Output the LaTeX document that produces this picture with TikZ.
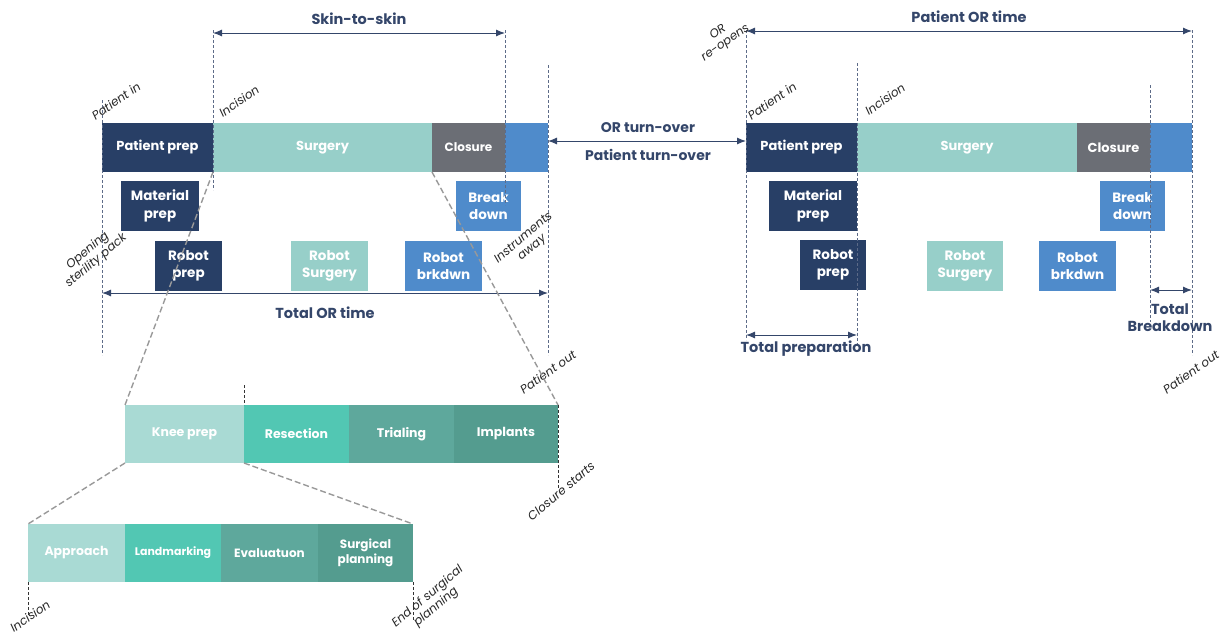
\documentclass[tikz,border=0pt]{standalone}
\usepackage{fontspec}
\setmainfont{Poppins}
\usetikzlibrary{arrows.meta}
\definecolor{navy}{HTML}{283F66}
\definecolor{teal}{HTML}{97CFC9}
\definecolor{closegray}{HTML}{6B6E75}
\definecolor{bdblue}{HTML}{4F8BCB}
\definecolor{lbl}{HTML}{34466A}
\definecolor{kneec}{HTML}{A9DAD4}
\definecolor{resc}{HTML}{52C7B3}
\definecolor{trialc}{HTML}{5EA89C}
\definecolor{implc}{HTML}{549C8F}
\newcommand\segbox[9]{\node[segb, fill=#6, minimum width={#4-#2}, minimum height={#5-#3}, font=\bfseries\fontsize{#8}{#9}\selectfont] (#1) at ({(#2+#4)/2},{(#3+#5)/2}) {#7};}
\tikzset{
  segb/.style={rectangle, inner sep=0pt, outer sep=0pt, text=white, align=center},
  vdash/.style={draw=lbl!80, densely dashed, line width=0.7pt},
  zoomline/.style={draw=gray!80, line width=1.4pt, dash pattern=on 6pt off 3pt},
  dimarrow/.style={draw=lbl, line width=1pt, {Latex[length=9pt,width=7pt]}-{Latex[length=9pt,width=7pt]}},
  biglbl/.style={text=lbl, font=\bfseries\fontsize{14.5}{17}\selectfont, align=center},
  itl/.style={text=black!85, font=\itshape\fontsize{12}{13}\selectfont, rotate=35, align=center, inner sep=1pt},
}
\begin{document}
\begin{tikzpicture}[x=1pt,y=-1pt]
\useasboundingbox (0,0) rectangle (1224,635);
% ---------- left main bar
\segbox{lpp}{102}{123}{213}{172}{navy}{Patient prep}{13}{16}
\segbox{lsu}{213}{123}{432}{172}{teal}{Surgery}{13}{16}
\segbox{lcl}{432}{123}{505}{172}{closegray}{Closure}{12}{15}
\segbox{lbd}{505}{123}{548}{172}{bdblue}{}{11}{14}
\segbox{lmp}{121}{181}{199}{231}{navy}{Material\\prep}{13.5}{17.5}
\segbox{lbk}{456}{181}{521}{231}{bdblue}{Break\\down}{13.5}{17.5}
\segbox{lrp}{155}{241}{222}{291}{navy}{Robot\\prep}{13.5}{17.5}
\segbox{lrs}{291}{241}{368}{291}{teal}{Robot\\Surgery}{13.5}{17.5}
\segbox{lrb}{405}{241}{482}{291}{bdblue}{Robot\\brkdwn}{13.5}{17.5}
% left dashed lines
\coordinate (lA1) at (102,100); \coordinate (lA2) at (102,355);
\coordinate (lB1) at (213,30);  \coordinate (lB2) at (213,190);
\coordinate (lC1) at (505,30);  \coordinate (lC2) at (505,205);
\coordinate (lD1) at (548,65);  \coordinate (lD2) at (548,355);
\draw[vdash] (lA1) -- (lA2);
\draw[vdash] (lB1) -- (lB2);
\draw[vdash] (lC1) -- (lC2);
\draw[vdash] (lD1) -- (lD2);
\coordinate (sk1) at (213,33); \coordinate (sk2) at (505,33);
\draw[dimarrow] (sk1) -- node[biglbl, above=5pt] (skl) {Skin-to-skin} (sk2);
\coordinate (to1) at (102,293); \coordinate (to2) at (548,293);
\draw[dimarrow] (to1) -- node[biglbl, below=10pt] (tol) {Total OR time} (to2);
\node[itl] (lpin) at (116,101) {Patient in};
\node[itl] (linc) at (239,101) {Incision};
\node[itl, rotate=5] (lops) at (92,256) {Opening\\sterility pack};
\node[itl, rotate=5] (linst) at (528,243) {Instruments\\away};
\node[itl] (lpout) at (548,372) {Patient out};
% ---------- turn-over
\coordinate (tu1) at (548,141); \coordinate (tu2) at (746,141);
\draw[dimarrow] (tu1) -- (tu2);
\node[biglbl, font=\bfseries\fontsize{14}{15}\selectfont] (ortl) at (648,128) {OR turn-over};
\node[biglbl, font=\bfseries\fontsize{14}{15}\selectfont] (ptl) at (648,155) {Patient turn-over};
% ---------- right main bar
\segbox{rpp}{746}{123}{857}{172}{navy}{Patient prep}{13}{16}
\segbox{rsu}{857}{123}{1077}{172}{teal}{Surgery}{13}{16}
\segbox{rcl}{1077}{123}{1150}{172}{closegray}{Closure}{13}{16}
\segbox{rbd}{1150}{123}{1192}{172}{bdblue}{}{11}{14}
\segbox{rmp}{769}{181}{857}{231}{navy}{Material\\prep}{13.5}{17.5}
\segbox{rbk}{1100}{181}{1165}{231}{bdblue}{Break\\down}{13.5}{17.5}
\segbox{rrp}{800}{240}{866}{290}{navy}{Robot\\prep}{13.5}{17.5}
\segbox{rrs}{927}{241}{1003}{291}{teal}{Robot\\Surgery}{13.5}{17.5}
\segbox{rrb}{1039}{241}{1116}{291}{bdblue}{Robot\\brkdwn}{13.5}{17.5}
\coordinate (rA1) at (746,30);  \coordinate (rA2) at (746,340);
\coordinate (rB1) at (857,63);  \coordinate (rB2) at (857,345);
\coordinate (rC1) at (1150,85); \coordinate (rC2) at (1150,322);
\coordinate (rD1) at (1192,30); \coordinate (rD2) at (1192,355);
\draw[vdash] (rA1) -- (rA2);
\draw[vdash] (rB1) -- (rB2);
\draw[vdash] (rC1) -- (rC2);
\draw[vdash] (rD1) -- (rD2);
\coordinate (po1) at (746,31); \coordinate (po2) at (1192,31);
\draw[dimarrow] (po1) -- node[biglbl, above=5pt] (pol) {Patient OR time} (po2);
\coordinate (tp1) at (746,335); \coordinate (tp2) at (857,335);
\draw[dimarrow] (tp1) -- (tp2);
\node[biglbl] (tpl) at (806,349) {Total preparation};
\coordinate (tb1) at (1150,290); \coordinate (tb2) at (1192,290);
\draw[dimarrow] (tb1) -- (tb2);
\node[biglbl, font=\bfseries\fontsize{14.5}{17}\selectfont] (tbl) at (1170,318) {Total\\Breakdown};
\node[itl] (rpin) at (772,101) {Patient in};
\node[itl] (rinc) at (885,99) {Incision};
\node[itl] (rore) at (722,38) {OR\\re-opens};
\node[itl] (rpout) at (1191,372) {Patient out};
% ---------- knee level
\segbox{kp}{125}{405}{244}{463}{kneec}{Knee prep}{12.5}{15}
\segbox{rs}{244}{405}{349}{463}{resc}{Resection}{12.5}{15}
\segbox{tr}{349}{405}{454}{463}{trialc}{Trialing}{12.5}{15}
\segbox{im}{454}{405}{558}{463}{implc}{Implants}{12.5}{15}
\draw[zoomline] (lsu.south west) -- (kp.north west);
\draw[zoomline] (lcl.south west) -- (im.north east);
\coordinate (kd1) at (244,385);
\draw[vdash, draw=black!80] (kd1) -- (rs.north west);
\coordinate (cs1) at (558,490);
\draw[vdash, draw=black!80] (im.north east) -- (cs1);
\node[itl, rotate=5] (csl) at (561,491) {Closure starts};
% ---------- sub level
\segbox{ap}{28}{524}{125}{582}{kneec}{Approach}{12.5}{15}
\segbox{lm}{125}{524}{221}{582}{resc}{Landmarking}{11}{14}
\segbox{ev}{221}{524}{318}{582}{trialc}{Evaluatuon}{12}{15}
\segbox{sp}{318}{524}{413}{582}{implc}{Surgical\\planning}{12}{15}
\draw[zoomline] (kp.south west) -- (ap.north west);
\draw[zoomline] (kp.south east) -- (sp.north east);
\coordinate (ic1) at (28,615);
\draw[vdash, draw=black!80] (ap.south west) -- (ic1);
\coordinate (es1) at (413,620);
\draw[vdash, draw=black!80] (sp.south east) -- (es1);
\node[itl] (icl) at (30,616) {Incision};
\node[itl, rotate=5] (esl) at (432,602) {End of surgical\\planning};
\end{tikzpicture}
\end{document}
